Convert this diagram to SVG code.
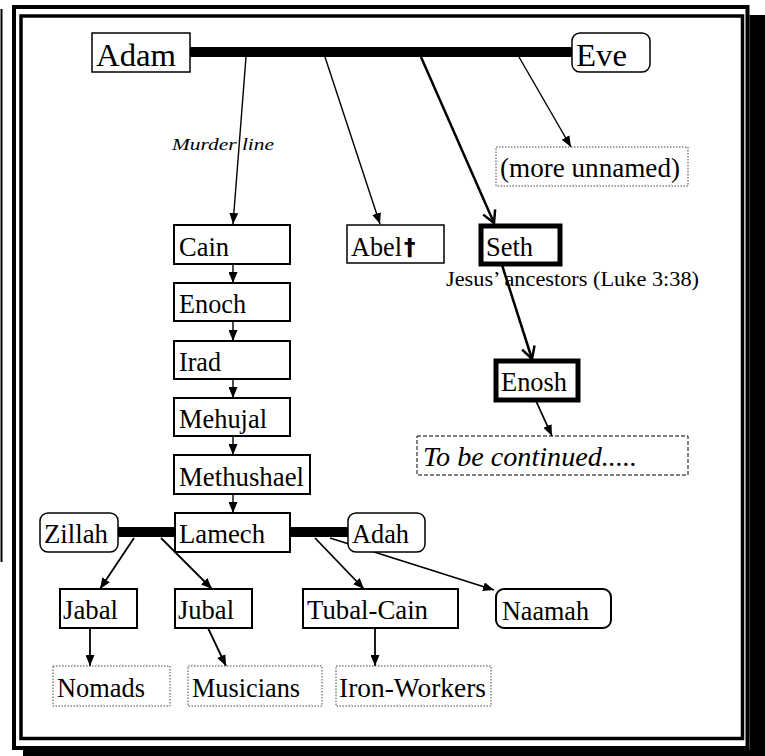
<svg xmlns="http://www.w3.org/2000/svg" width="765" height="756" viewBox="0 0 765 756">
<style>
.t{font-family:"Liberation Serif","Times New Roman",serif;font-size:26.5px;fill:#000}
.big{font-size:30.5px}
.it{font-style:italic}
.box{fill:#fff;stroke:#000;stroke-width:2}
.thin{stroke-width:1.5}
.heavy{stroke-width:5}
.dot{fill:#fff;stroke:#444;stroke-width:1;stroke-dasharray:1.5 1.5}
.dash{fill:#fff;stroke:#000;stroke-width:1;stroke-dasharray:4 2}
.c{stroke:#000;fill:none;stroke-width:1.4}
.cm{stroke-width:1.8}
.ck{stroke-width:2.5}
.bar{stroke:#000;stroke-width:10}
</style>
<defs>
<marker id="a" viewBox="0 0 11 9" refX="11" refY="4.5" markerWidth="11" markerHeight="9" markerUnits="userSpaceOnUse" orient="auto"><path d="M0,0 L11,4.5 L0,9 Z" fill="#000"/></marker>
<marker id="v" viewBox="-2 -2 17 17" refX="12" refY="6.5" markerWidth="17" markerHeight="17" markerUnits="userSpaceOnUse" orient="auto"><path d="M0,0 L12,6.5 L0,13" fill="none" stroke="#000" stroke-width="2.5"/></marker>
</defs>
<rect width="765" height="756" fill="#fff"/>
<g id="frame">
<line x1="1.5" y1="9" x2="1.5" y2="562" stroke="#000" stroke-width="2"/>
<rect x="14" y="7" width="733.5" height="741" fill="none" stroke="#000" stroke-width="4"/>
<rect x="21" y="16" width="721.5" height="722.5" fill="none" stroke="#000" stroke-width="3.5"/>
<path d="M749.5,15 H765 V756 H23 V750 H749.5 Z" fill="#000"/>
</g>
<g id="connectors">
<line class="bar" x1="190" y1="52" x2="572" y2="52"/>
<line class="c" x1="246" y1="57" x2="233" y2="224" marker-end="url(#a)"/>
<line class="c" x1="325" y1="57" x2="380" y2="224" marker-end="url(#a)"/>
<line class="c ck" x1="421" y1="57" x2="494" y2="223" marker-end="url(#v)"/>
<line class="c" x1="519" y1="57" x2="571" y2="147" marker-end="url(#a)"/>
<line class="c" x1="233" y1="264" x2="233" y2="283" marker-end="url(#a)"/>
<line class="c" x1="233" y1="321" x2="233" y2="341" marker-end="url(#a)"/>
<line class="c" x1="233" y1="379" x2="233" y2="398" marker-end="url(#a)"/>
<line class="c" x1="233" y1="436" x2="233" y2="455" marker-end="url(#a)"/>
<line class="c" x1="233" y1="494" x2="233" y2="513" marker-end="url(#a)"/>
<line class="c ck" x1="502" y1="265" x2="532" y2="359" marker-end="url(#v)"/>
<line class="c cm" x1="536" y1="401" x2="552" y2="436" marker-end="url(#a)"/>
<line class="bar" x1="118" y1="532" x2="175" y2="532"/>
<line class="bar" x1="290" y1="532" x2="348" y2="532"/>
<line class="c cm" x1="134" y1="538" x2="100" y2="589" marker-end="url(#a)"/>
<line class="c cm" x1="161" y1="538" x2="212" y2="589" marker-end="url(#a)"/>
<line class="c cm" x1="315" y1="538" x2="364" y2="589" marker-end="url(#a)"/>
<line class="c cm" x1="330" y1="538" x2="494" y2="590" marker-end="url(#a)"/>
<line class="c cm" x1="90" y1="628" x2="90" y2="666" marker-end="url(#a)"/>
<line class="c cm" x1="208" y1="628" x2="226" y2="666" marker-end="url(#a)"/>
<line class="c cm" x1="375" y1="628" x2="375" y2="666" marker-end="url(#a)"/>
<text class="t it" x="172" y="150" style="font-size:17.5px" textLength="102" lengthAdjust="spacingAndGlyphs">Murder line</text>
<text class="t" x="446" y="286" style="font-size:20px" textLength="253" lengthAdjust="spacingAndGlyphs">Jesus’ ancestors (Luke 3:38)</text>
</g>
<g id="adam"><rect class="box thin" x="92" y="33" width="98" height="39"/><text class="t big" x="96" y="66" textLength="80" lengthAdjust="spacingAndGlyphs">Adam</text></g>
<g id="eve"><rect class="box thin" x="572" y="33" width="78" height="39" rx="8"/><text class="t big" x="576" y="66" textLength="51" lengthAdjust="spacingAndGlyphs">Eve</text></g>
<g id="more"><rect class="dot" x="496" y="147" width="192" height="39"/><text class="t" x="500" y="177" textLength="180" lengthAdjust="spacingAndGlyphs">(more unnamed)</text></g>
<g id="cain"><rect class="box" x="174" y="225" width="116" height="39"/><text class="t" x="179" y="256" textLength="50" lengthAdjust="spacingAndGlyphs">Cain</text></g>
<g id="abel"><rect class="box thin" x="347" y="225" width="97" height="38"/><text class="t" x="351" y="256"><tspan textLength="51" lengthAdjust="spacingAndGlyphs">Abel</tspan><tspan dx="2" dy="-1" style="font-family:'DejaVu Sans',sans-serif;font-weight:bold;font-size:23px">†</tspan></text></g>
<g id="seth"><rect class="box heavy" x="481" y="226" width="79" height="38"/><text class="t" x="486" y="256" textLength="47" lengthAdjust="spacingAndGlyphs">Seth</text></g>
<g id="enosh"><rect class="box heavy" x="496" y="361" width="82" height="39"/><text class="t" x="501" y="391" textLength="66" lengthAdjust="spacingAndGlyphs">Enosh</text></g>
<g id="continued"><rect class="dash" x="417" y="436" width="271" height="39"/><text class="t it" x="423" y="466" style="font-size:27px" textLength="214" lengthAdjust="spacingAndGlyphs">To be continued.....</text></g>
<g id="enoch"><rect class="box" x="174" y="283" width="116" height="38"/><text class="t" x="179" y="313" textLength="67" lengthAdjust="spacingAndGlyphs">Enoch</text></g>
<g id="irad"><rect class="box" x="174" y="341" width="116" height="38"/><text class="t" x="179" y="371" textLength="42" lengthAdjust="spacingAndGlyphs">Irad</text></g>
<g id="mehujal"><rect class="box" x="174" y="398" width="116" height="38"/><text class="t" x="179" y="428" textLength="88" lengthAdjust="spacingAndGlyphs">Mehujal</text></g>
<g id="methushael"><rect class="box" x="174" y="455" width="136" height="39"/><text class="t" x="179" y="486" textLength="125" lengthAdjust="spacingAndGlyphs">Methushael</text></g>
<g id="lamech"><rect class="box" x="175" y="513" width="115" height="39"/><text class="t" x="179" y="543" textLength="86" lengthAdjust="spacingAndGlyphs">Lamech</text></g>
<g id="zillah"><rect class="box thin" x="40" y="513" width="78" height="39" rx="8"/><text class="t" x="44" y="543" textLength="64" lengthAdjust="spacingAndGlyphs">Zillah</text></g>
<g id="adah"><rect class="box thin" x="348" y="513" width="77" height="39" rx="8"/><text class="t" x="352" y="543" textLength="57" lengthAdjust="spacingAndGlyphs">Adah</text></g>
<g id="jabal"><rect class="box" x="60" y="589" width="77" height="39"/><text class="t" x="63" y="619" textLength="55" lengthAdjust="spacingAndGlyphs">Jabal</text></g>
<g id="jubal"><rect class="box" x="175" y="589" width="77" height="39"/><text class="t" x="178" y="619" textLength="56" lengthAdjust="spacingAndGlyphs">Jubal</text></g>
<g id="tubalcain"><rect class="box" x="303" y="589" width="155" height="39"/><text class="t" x="307" y="619" textLength="121" lengthAdjust="spacingAndGlyphs">Tubal-Cain</text></g>
<g id="naamah"><rect class="box" x="496" y="589" width="115" height="39" rx="8"/><text class="t" x="502" y="620" textLength="87" lengthAdjust="spacingAndGlyphs">Naamah</text></g>
<g id="nomads"><rect class="dot" x="53" y="666" width="117" height="40"/><text class="t" x="57" y="697" textLength="88" lengthAdjust="spacingAndGlyphs">Nomads</text></g>
<g id="musicians"><rect class="dot" x="188" y="666" width="134" height="40"/><text class="t" x="192" y="697" textLength="108" lengthAdjust="spacingAndGlyphs">Musicians</text></g>
<g id="ironworkers"><rect class="dot" x="336" y="666" width="155" height="40"/><text class="t" x="339" y="697" textLength="147" lengthAdjust="spacingAndGlyphs">Iron-Workers</text></g>
</svg>
